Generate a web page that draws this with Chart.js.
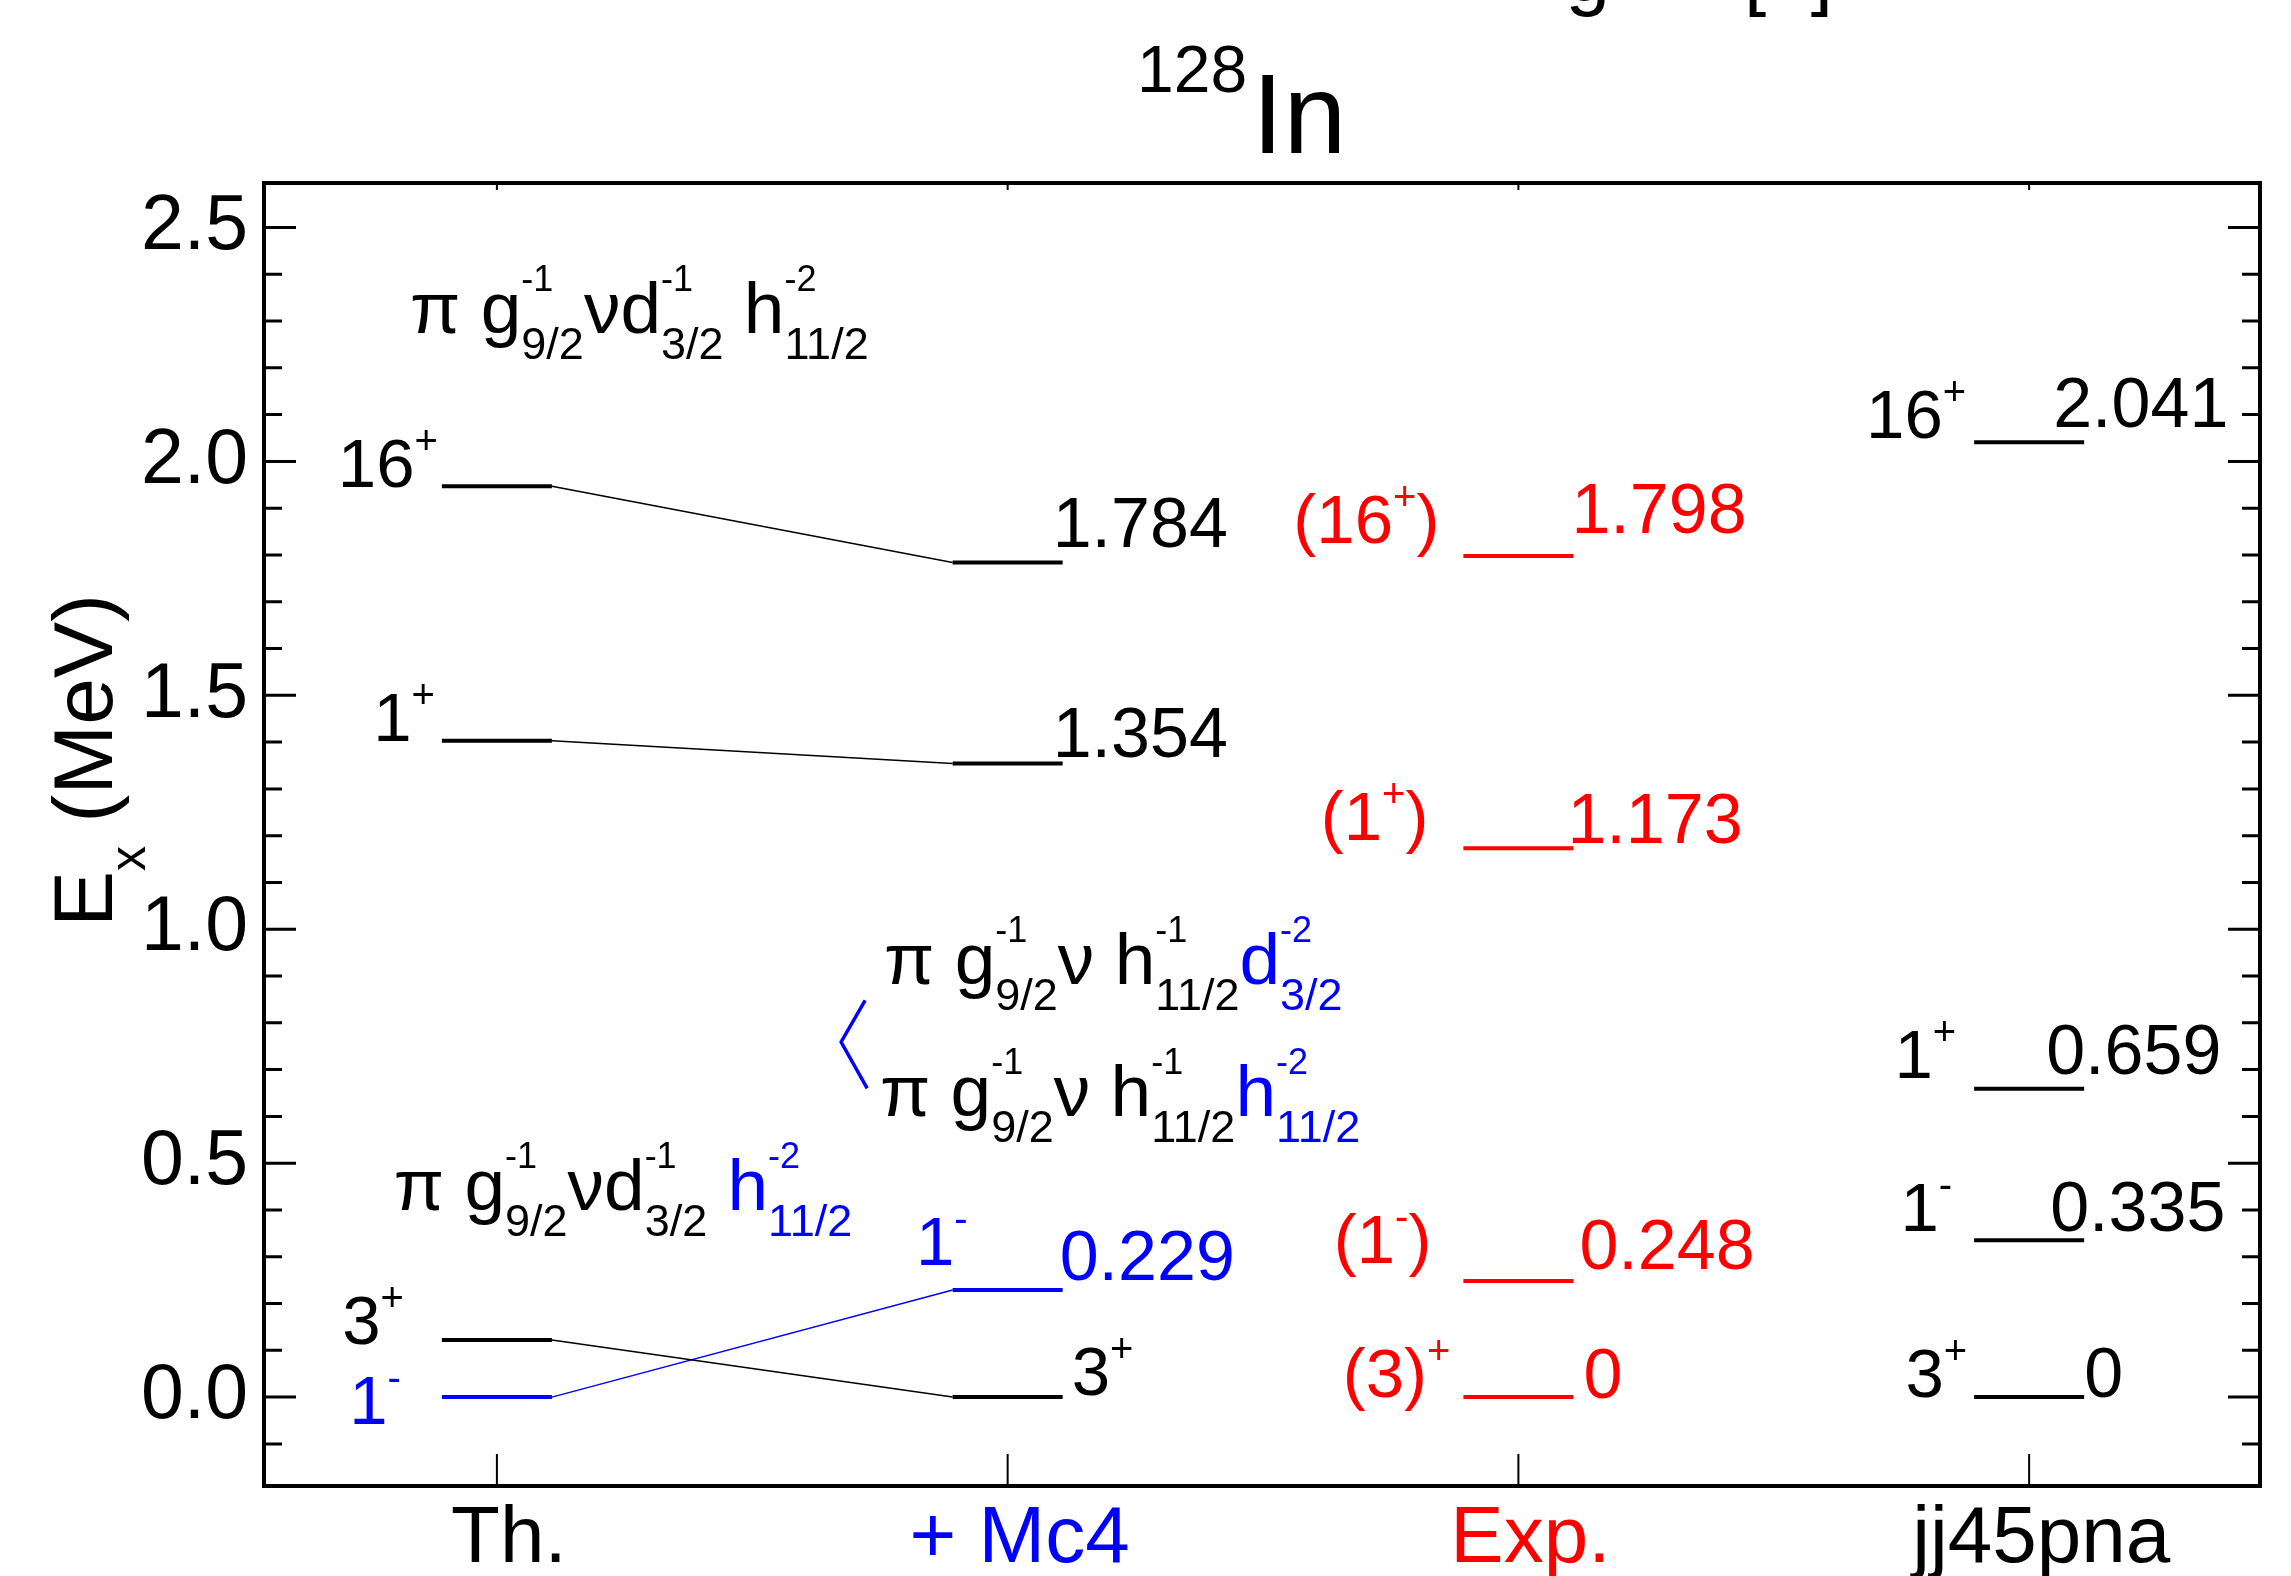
<!DOCTYPE html>
<html>
<head>
<meta charset="utf-8">
<script src="https://cdn.jsdelivr.net/npm/chart.js@4.4.1/dist/chart.umd.min.js"></script>
<style>
html, body { margin: 0; padding: 0; background: #fff; overflow: hidden; }
canvas { display: block; }
</style>
</head>
<body>
<canvas id="levels" width="2291" height="1576"></canvas>
<script>
// columns and level energies (MeV), spins
const columns   = ['Th.', '+ Mc4', 'Exp.', 'jj45pna'];
const thEnergy  = [1.947, 1.403, 0.122, 0];
const thSpin    = ['16+', '1+', '3+', '1-'];
const mc4Energy = [1.784, 1.354, 0.229, 0];
const mc4Spin   = ['16+', '1+', '1-', '3+'];
const expEnergy = [1.798, 1.173, 0.248, 0];
const expSpin   = ['(16+)', '(1+)', '(1-)', '(3)+'];
const jjEnergy  = [2.041, 0.659, 0.335, 0];
const jjSpin    = ['16+', '1+', '1-', '3+'];
const thToMc4   = [0, 1, 3, 2];          // which Mc4 level each Th. level goes to
const yTicks    = [0, 0.5, 1.0, 1.5, 2.0, 2.5];

// styles
const FAM = '"Liberation Sans", Arial, Helvetica, sans-serif';
const K = '#000000', B = '#0000ff', R = '#ff0000';
const columnColor = [K, B, R, K];
const levelColor = [[K, K, K, B], [K, K, B, K], [R, R, R, R], [K, K, K, K]];
const HW = 0.1077; // half width of a level line, in column units

// label offsets in px: s = spin (right aligned at line start), v = value (left aligned at line end),
// sv = spin written on the right side
const labelPos = [
  [{s: [-4, 1]}, {s: [-7, 0]}, {s: [-38, 4]}, {s: [-41, 27]}],
  [{v: [-10, -15]}, {v: [-10, -7]}, {s: [15, -25], v: [-3, -10]}, {sv: [9, -2]}],
  [{s: [-24, -13], v: [-2, -23]}, {s: [-35, -8], v: [-6, -5]}, {s: [-32, -18], v: [6, -12]}, {s: [-13, 0], v: [10, 1]}],
  [{s: [-8, -4], v: [-31, -15]}, {s: [-18, -11], v: [-38, -15]}, {s: [-22, -9], v: [-34, -9]}, {s: [-7, 0], v: [0, 0]}]
];

// configuration annotations: [main, sup, sub, colour]
const formulas = [
  {x: 0.830, y: 2.275, parts: [['π ', '', '', K], ['g', '-1', '9/2', K], ['ν', '', '', K], ['d', '-1', '3/2', K], [' h', '-2', '11/2', K]]},
  {x: 1.758, y: 0.884, parts: [['π ', '', '', K], ['g', '-1', '9/2', K], ['ν h', '-1', '11/2', K], ['d', '-2', '3/2', B]]},
  {x: 1.750, y: 0.600, parts: [['π ', '', '', K], ['g', '-1', '9/2', K], ['ν h', '-1', '11/2', K], ['h', '-2', '11/2', B]]},
  {x: 0.798, y: 0.399, parts: [['π ', '', '', K], ['g', '-1', '9/2', K], ['ν', '', '', K], ['d', '-1', '3/2', K], [' h', '-2', '11/2', B]]}
];
const bracket = [{x: 1.721, y: 0.848}, {x: 1.674, y: 0.759}, {x: 1.725, y: 0.660}];

const levelSets = [
  {c: 1, E: thEnergy, J: thSpin},
  {c: 2, E: mc4Energy, J: mc4Spin},
  {c: 3, E: expEnergy, J: expSpin},
  {c: 4, E: jjEnergy, J: jjSpin}
];

const datasets = [];
levelSets.forEach((col, ci) => col.E.forEach((e, li) => {
  datasets.push({
    data: [{x: col.c - HW, y: e}, {x: col.c + HW, y: e}],
    borderColor: levelColor[ci][li], borderWidth: 4
  });
}));
thToMc4.forEach((mi, ti) => {
  datasets.push({
    data: [{x: 1 + HW, y: thEnergy[ti]}, {x: 2 - HW, y: mc4Energy[mi]}],
    borderColor: levelColor[0][ti], borderWidth: 1.5
  });
});
datasets.push({data: bracket, borderColor: B, borderWidth: 3.5});
datasets.forEach(d => Object.assign(d, {showLine: true, pointRadius: 0, borderCapStyle: 'butt', fill: false, clip: false}));

function spinParts(s) {
  const out = [];
  for (const ch of s) {
    const sup = ch === '+' || ch === '-';
    const last = out[out.length - 1];
    if (last && last.sup === sup) last.t += ch; else out.push({t: ch, sup: sup});
  }
  return out;
}

function drawSpin(ctx, str, x, y, color, align) {
  const parts = spinParts(str);
  let w = 0;
  parts.forEach(p => {
    ctx.font = (p.sup ? 40 : 69) + 'px ' + FAM;
    p.w = ctx.measureText(p.t).width;
    w += p.w;
  });
  let cx = align === 'right' ? x - w : x;
  ctx.fillStyle = color;
  ctx.textAlign = 'left';
  parts.forEach(p => {
    ctx.font = (p.sup ? 40 : 69) + 'px ' + FAM;
    ctx.fillText(p.t, cx, p.sup ? y - 33 : y);
    cx += p.w;
  });
}

function drawFormula(ctx, parts, x, y) {
  let cx = x;
  ctx.textAlign = 'left';
  parts.forEach(([t, sup, sub, col]) => {
    ctx.fillStyle = col;
    ctx.font = '73px ' + FAM;
    ctx.fillText(t, cx, y);
    cx += ctx.measureText(t).width;
    if (sup || sub) {
      ctx.font = '36px ' + FAM;
      ctx.fillText(sup, cx, y - 42);
      const w1 = ctx.measureText(sup).width;
      ctx.font = '45px ' + FAM;
      ctx.fillText(sub, cx, y + 26);
      const w2 = ctx.measureText(sub).width;
      cx += Math.max(w1, w2);
    }
  });
}

const decor = {
  id: 'decor',
  afterDraw(chart) {
    const {ctx, chartArea: a, scales: {x, y}} = chart;
    ctx.save();
    ctx.textBaseline = 'alphabetic';

    // frame and inward ticks
    ctx.strokeStyle = '#000';
    ctx.lineWidth = 4;
    ctx.strokeRect(a.left, a.top, a.right - a.left, a.bottom - a.top);
    ctx.lineWidth = 3;
    for (let k = -1; k <= 25; k++) {
      const py = y.getPixelForValue(k / 10);
      const len = k % 5 === 0 ? 32 : 18;
      ctx.beginPath();
      ctx.moveTo(a.left, py); ctx.lineTo(a.left + len, py);
      ctx.moveTo(a.right, py); ctx.lineTo(a.right - len, py);
      ctx.stroke();
    }
    ctx.lineWidth = 2;
    columns.forEach((c, i) => {
      const px = x.getPixelForValue(i + 1);
      ctx.beginPath();
      ctx.moveTo(px, a.bottom); ctx.lineTo(px, a.bottom - 32);
      ctx.moveTo(px, a.top); ctx.lineTo(px, a.top + 7);
      ctx.stroke();
    });

    // level labels
    levelSets.forEach((col, ci) => col.E.forEach((e, li) => {
      const pos = labelPos[ci][li];
      const color = levelColor[ci][li];
      const py = y.getPixelForValue(e);
      const x0 = x.getPixelForValue(col.c - HW);
      const x1 = x.getPixelForValue(col.c + HW);
      if (pos.s) drawSpin(ctx, col.J[li], x0 + pos.s[0], py + pos.s[1], color, 'right');
      if (pos.sv) drawSpin(ctx, col.J[li], x1 + pos.sv[0], py + pos.sv[1], color, 'left');
      if (pos.v) {
        ctx.fillStyle = color;
        ctx.textAlign = 'left';
        ctx.font = '70px ' + FAM;
        ctx.fillText(e === 0 ? '0' : e.toFixed(3), x1 + pos.v[0], py + pos.v[1]);
      }
    }));

    // configurations
    formulas.forEach(f => drawFormula(ctx, f.parts, x.getPixelForValue(f.x), y.getPixelForValue(f.y)));

    // title
    ctx.fillStyle = '#000';
    ctx.textAlign = 'left';
    ctx.font = '66px ' + FAM;
    ctx.fillText('128', 1137, 92);
    ctx.font = '113px ' + FAM;
    ctx.fillText('In', 1252, 153);

    // cut-off caption line above the figure
    ctx.font = '80px ' + FAM;
    ctx.textAlign = 'right';
    ctx.fillText('ing', 1610, 0);
    ctx.textAlign = 'left';
    ctx.fillText('[1]', 1744, 0);

    // y axis title
    ctx.translate(112, 927);
    ctx.rotate(-Math.PI / 2);
    ctx.font = '84px ' + FAM;
    ctx.fillText('E', 0, 0);
    let w = ctx.measureText('E').width;
    ctx.font = '50px ' + FAM;
    ctx.fillText('x', w, 33);
    w += ctx.measureText('x').width;
    ctx.font = '84px ' + FAM;
    ctx.fillText(' (MeV)', w, 0);
    ctx.restore();
  }
};

Chart.defaults.font.family = FAM;
Chart.defaults.color = '#000';

new Chart(document.getElementById('levels').getContext('2d'), {
  type: 'scatter',
  data: {datasets: datasets},
  options: {
    responsive: false,
    devicePixelRatio: 1,
    animation: false,
    layout: {padding: {left: 0, top: 183, right: 31, bottom: 0}},
    plugins: {legend: {display: false}, tooltip: {enabled: false}},
    scales: {
      x: {
        type: 'linear', min: 0.544, max: 4.452,
        grid: {display: false, drawTicks: false}, border: {display: false},
        afterBuildTicks: s => { s.ticks = columns.map((c, i) => ({value: i + 1})); },
        afterFit: s => { s.height = 90; },
        ticks: {
          autoSkip: false, maxRotation: 0, padding: 6, labelOffset: 12,
          font: {size: 80},
          color: c => columnColor[c.index],
          callback: v => columns[v - 1]
        }
      },
      y: {
        type: 'linear', min: -0.19, max: 2.595,
        grid: {display: false, drawTicks: false}, border: {display: false},
        afterBuildTicks: s => { s.ticks = yTicks.map(v => ({value: v})); },
        afterFit: s => { s.width = 264; },
        ticks: {padding: 16, font: {size: 77}, callback: v => v.toFixed(1)}
      }
    }
  },
  plugins: [decor]
});
</script>
</body>
</html>
